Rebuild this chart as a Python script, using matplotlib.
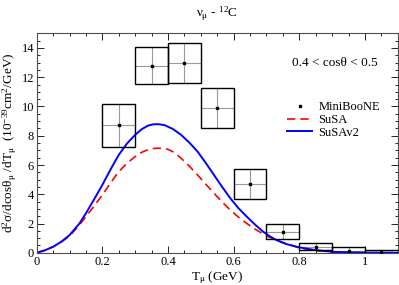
import numpy as np
import matplotlib
matplotlib.use('Agg')
import matplotlib.pyplot as plt
from matplotlib.patches import Rectangle
from matplotlib.ticker import MultipleLocator

plt.rcParams['font.family'] = ['Liberation Serif', 'DejaVu Serif']
plt.rcParams['mathtext.fontset'] = 'custom'
plt.rcParams['mathtext.rm'] = 'Liberation Serif'
plt.rcParams['mathtext.it'] = 'Liberation Serif'
plt.rcParams['mathtext.bf'] = 'Liberation Serif:bold'

# MiniBooNE data, 0.4 < cos(theta) < 0.5
t_bins = [0.25, 0.35, 0.45, 0.55, 0.65, 0.75, 0.85, 0.95, 1.05]
xsec = [8.73, 12.78, 12.99, 9.89, 4.68, 1.44, 0.41, 0.12, 0.05]
err = [1.47, 1.27, 1.36, 1.37, 1.03, 0.50, 0.25, 0.25, 0.13]
bin_half = 0.05

# model curves
t_susa = [0.0, 0.025, 0.05, 0.075, 0.10, 0.13, 0.15, 0.175, 0.20, 0.225, 0.25,
          0.275, 0.30, 0.32, 0.34, 0.355, 0.37, 0.385, 0.40, 0.42, 0.44,
          0.465, 0.49, 0.515, 0.54, 0.565, 0.59, 0.615, 0.64, 0.665, 0.69,
          0.71, 0.73, 0.76, 0.80, 0.85, 0.90, 0.95, 1.00, 1.10]
susa = [0.0, 0.18, 0.42, 0.74, 1.14, 1.90, 2.47, 3.20, 3.95, 4.78, 5.55,
        6.12, 6.58, 6.87, 7.06, 7.13, 7.15, 7.13, 7.07, 6.85, 6.46,
        5.92, 5.32, 4.69, 4.07, 3.47, 2.92, 2.43, 2.01, 1.62, 1.28,
        1.05, 0.87, 0.62, 0.33, 0.16, 0.06, 0.02, 0.01, 0.0]
t_susav2 = [0.0, 0.025, 0.05, 0.075, 0.10, 0.13, 0.15, 0.175, 0.20, 0.225,
            0.25, 0.275, 0.30, 0.32, 0.34, 0.355, 0.365, 0.375, 0.39, 0.415,
            0.44, 0.465, 0.49, 0.515, 0.54, 0.565, 0.59, 0.615, 0.64, 0.665,
            0.69, 0.71, 0.73, 0.76, 0.80, 0.85, 0.90, 0.95, 1.00, 1.10]
susav2 = [0.0, 0.17, 0.41, 0.76, 1.21, 2.00, 2.70, 3.66, 4.64, 5.70,
          6.69, 7.47, 8.06, 8.45, 8.70, 8.78, 8.79, 8.78, 8.72, 8.46,
          8.06, 7.53, 6.92, 6.14, 5.32, 4.50, 3.72, 3.04, 2.47, 1.93,
          1.44, 1.13, 0.87, 0.60, 0.37, 0.18, 0.07, 0.03, 0.01, 0.0]

fig = plt.figure(figsize=(3.99, 2.85), dpi=100)
ax = fig.add_axes([0.092, 0.113, 0.905, 0.77])

# data boxes with cross lines
for x, y, e in zip(t_bins, xsec, err):
    ax.add_patch(Rectangle((x - bin_half, y - e), 2 * bin_half, 2 * e,
                           fill=False, edgecolor='black', lw=1.0, zorder=3))
    ax.plot([x - bin_half, x + bin_half], [y, y], color='0.6', lw=0.8, zorder=2)
    ax.plot([x, x], [y - e, y + e], color='0.6', lw=0.8, zorder=2)
ax.plot(t_bins, xsec, 's', color='black', ms=2, zorder=4, label='MiniBooNE')

ax.plot(t_susa, susa, color='red', lw=1.2, ls=(0, (5, 3)), label='SuSA')
ax.plot(t_susav2, susav2, color='blue', lw=1.4, label='SuSAv2')

ax.set_xlim(0, 1.1)
ax.set_ylim(0, 15)
ax.xaxis.set_minor_locator(MultipleLocator(0.05))
ax.yaxis.set_major_locator(MultipleLocator(2))
ax.yaxis.set_minor_locator(MultipleLocator(0.5))
ax.set_xticks([0, 0.2, 0.4, 0.6, 0.8, 1.0])
ax.set_xticklabels(['0', '0.2', '0.4', '0.6', '0.8', '1'])
ax.tick_params(which='both', direction='in', top=True, right=True,
               labelsize=9, width=0.6, pad=2)
ax.tick_params(which='major', length=5)
ax.tick_params(which='minor', length=2.5)
for s in ax.spines.values():
    s.set_linewidth(0.8)
    s.set_color('0.3')

ax.set_xlabel(r'T$_\mu$ (GeV)', fontsize=9.5, labelpad=1)
ax.set_ylabel(r'd$^2\sigma$/dcos$\theta_\mu$ /dT$_\mu$  (10$^{-39}$cm$^2$/GeV)',
              fontsize=9.5, labelpad=2)
ax.set_title(r'$\nu_\mu$ - $^{12}$C', fontsize=9.5, pad=12)

ax.text(0.945, 0.865, '0.4 < cosθ < 0.5', transform=ax.transAxes,
        ha='right', va='center', fontsize=9.5)

ax.legend(loc='upper right', bbox_to_anchor=(0.975, 0.73), frameon=False,
          fontsize=9, handlelength=2.0, handletextpad=0.5, labelspacing=0.05,
          borderaxespad=0.3)

fig.savefig('out.png', dpi=100)
